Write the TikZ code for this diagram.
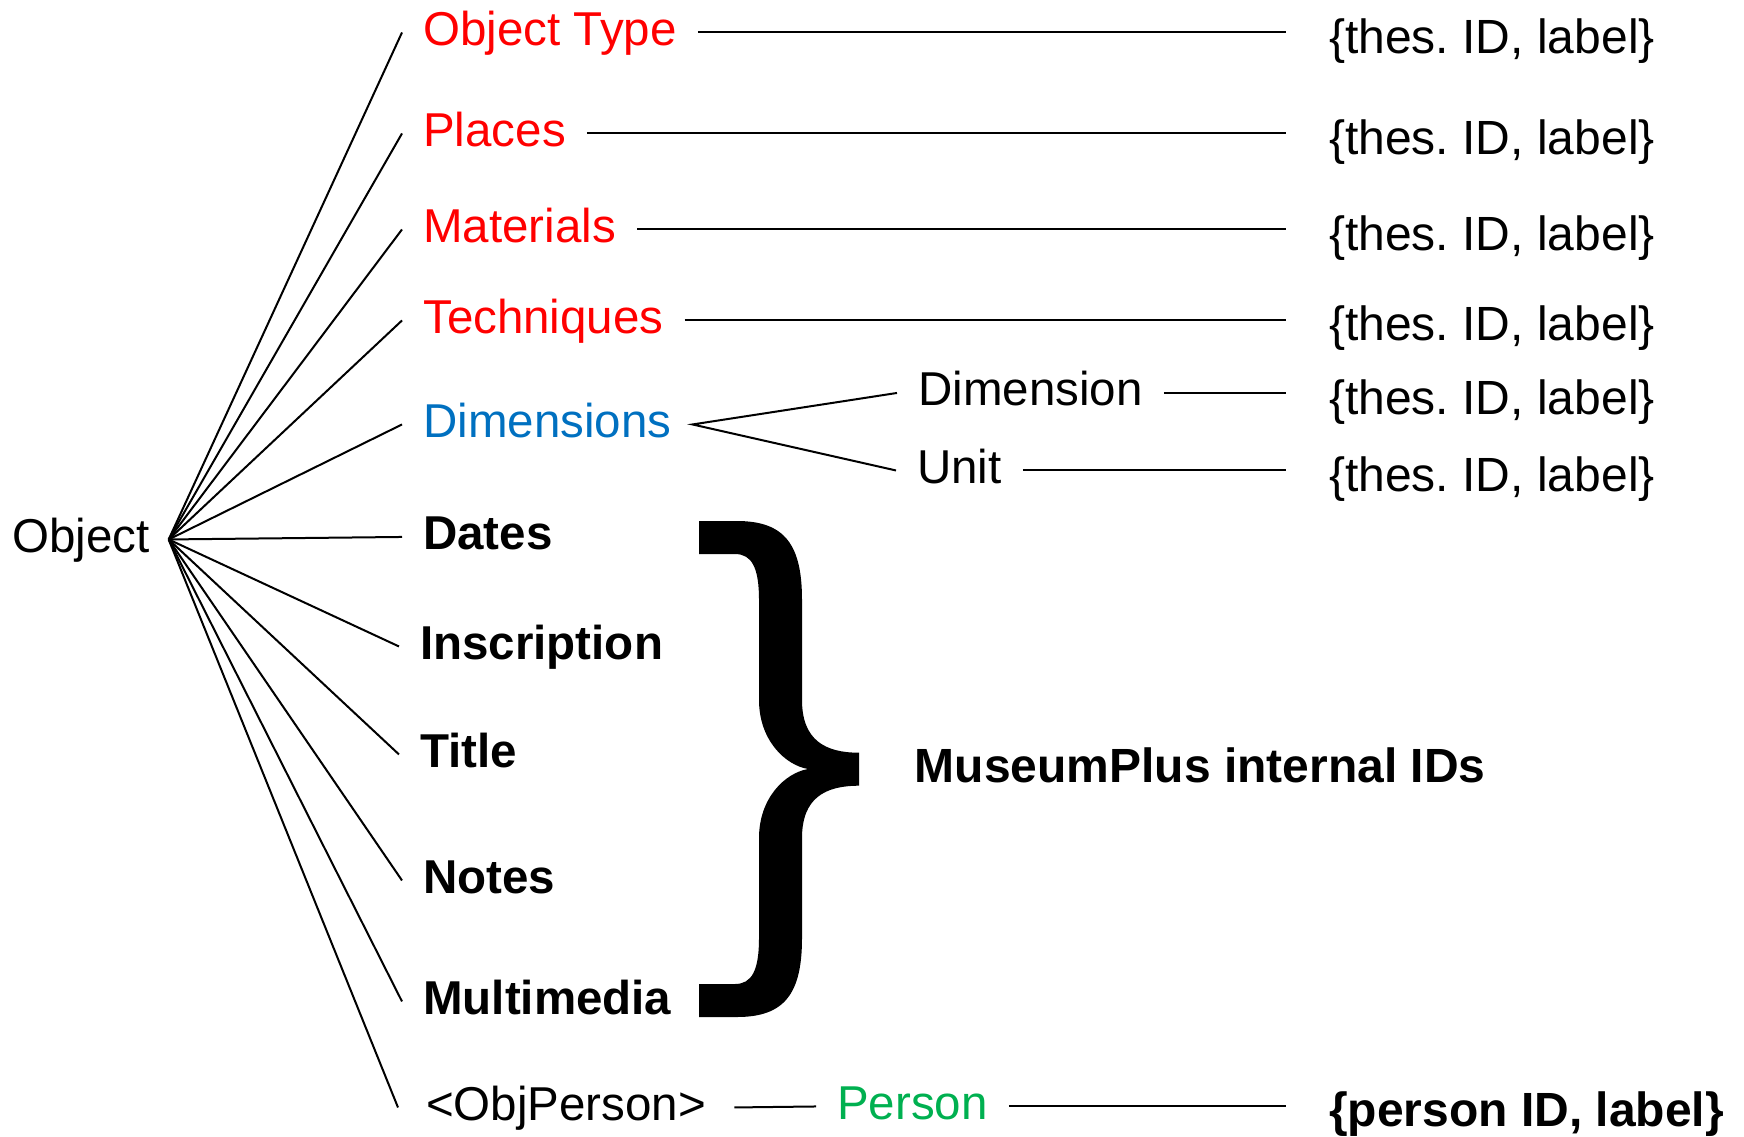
\documentclass[tikz,border=0pt]{standalone}
\usepackage{fontspec}
\setmainfont{Liberation Sans}
\definecolor{otred}{RGB}{255,0,0}
\definecolor{dimblue}{RGB}{0,112,192}
\definecolor{persgreen}{RGB}{0,176,80}
\tikzset{
  lbl/.style={anchor=base west, inner xsep=21pt, inner ysep=0pt, font=\fontsize{47.5}{57}\selectfont},
  blbl/.style={lbl, font=\fontsize{47.5}{57}\selectfont\bfseries},
  idlbl/.style={anchor=base west, inner xsep=43pt, inner ysep=0pt, font=\fontsize{48}{58}\selectfont},
  conn/.style={line width=2pt}
}
\frenchspacing
\begin{document}
\fontsize{47.5}{57}\selectfont% so that the mid anchors sit at half the x-height
\begin{tikzpicture}[x=1pt,y=-1pt]
  \useasboundingbox (0,0) rectangle (1744,1136);
  \node[lbl,inner xsep=19pt] (obj) at (-7,552) {Object};
  % first level
  \node[lbl,otred] (otype) at (402,45) {Object Type};
  \node[lbl,otred] (places) at (402,146) {Places};
  \node[lbl,otred] (mater) at (402,242) {Materials};
  \node[lbl,otred] (techn) at (402,333) {Techniques};
  \node[lbl,dimblue] (dims) at (402,437) {Dimensions};
  \node[blbl] (dates) at (402,549.5) {Dates};
  \node[blbl] (inscr) at (399,659) {Inscription};
  \node[blbl] (title) at (399,767) {Title};
  \node[blbl] (notes) at (402,893) {Notes};
  \node[blbl] (multi) at (402,1014) {Multimedia};
  \node[lbl,inner xsep=28pt] (objp) at (398,1120) {<ObjPerson>};
  \foreach \n in {otype,places,mater,techn,dims,dates,inscr,title,notes,multi,objp}
    \draw[conn] (obj.mid east) -- (\n.mid west);
  % second level
  \node[lbl] (dimn) at (897,405.5) {Dimension};
  \node[lbl] (unit) at (896,483) {Unit};
  \node[lbl,persgreen] (pers) at (816,1119) {Person};
  \draw[conn] (dimn.mid west) -- (dims.mid east) -- (unit.mid west);
  \draw[conn] (objp.mid east) -- (pers.mid west);
  % thesaurus references
  \node[idlbl] (th1) at (1286,53.3) {\{thes. ID, label\}};
  \node[idlbl] (th2) at (1286,154.6) {\{thes. ID, label\}};
  \node[idlbl] (th3) at (1286,250) {\{thes. ID, label\}};
  \node[idlbl] (th4) at (1286,340.6) {\{thes. ID, label\}};
  \node[idlbl] (th5) at (1286,414) {\{thes. ID, label\}};
  \node[idlbl] (th6) at (1286,491.6) {\{thes. ID, label\}};
  \node[idlbl,font=\fontsize{48}{58}\selectfont\bfseries] (pid) at (1286,1126) {\{person ID, label\}};
  \draw[conn] (otype.mid east) -- (otype.mid east -| th1.west);
  \draw[conn] (places.mid east) -- (places.mid east -| th2.west);
  \draw[conn] (mater.mid east) -- (mater.mid east -| th3.west);
  \draw[conn] (techn.mid east) -- (techn.mid east -| th4.west);
  \draw[conn] (dimn.mid east) -- (dimn.mid east -| th5.west);
  \draw[conn] (unit.mid east) -- (unit.mid east -| th6.west);
  \draw[conn] (pers.mid east) -- (pers.mid east -| pid.west);
  % brace
  \fill (699,521) -- (737,521) .. controls (785,521) and (802,545) .. (802,600)
    -- (802,700) .. controls (802,740) and (825,752.7) .. (859,752.7)
    -- (859,785.7) .. controls (825,785.7) and (802,798) .. (802,838)
    -- (802,938) .. controls (802,993) and (785,1017) .. (737,1017)
    -- (699,1017) -- (699,984) -- (735,984) .. controls (752,984) and (759,970) .. (759,938)
    -- (759,838) .. controls (759,798) and (785,773) .. (808,769)
    .. controls (785,765) and (759,740) .. (759,700)
    -- (759,600) .. controls (759,568) and (752,554) .. (735,554) -- (699,554) -- cycle;
  \node[anchor=base west, inner sep=0pt, font=\fontsize{48}{58}\selectfont\bfseries] (mpids) at (914.5,782.7) {MuseumPlus internal IDs};
\end{tikzpicture}
\end{document}
